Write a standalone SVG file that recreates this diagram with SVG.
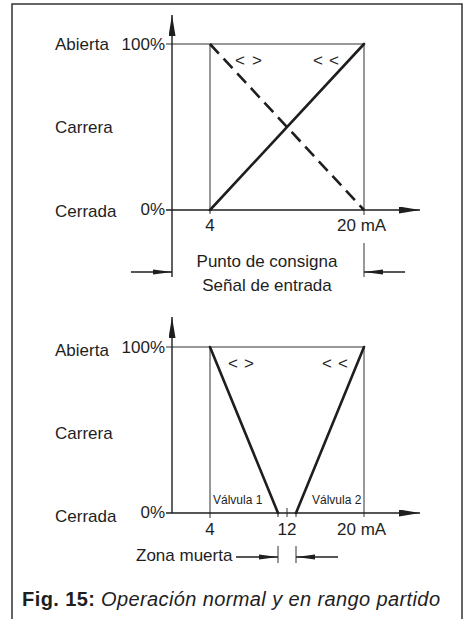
<svg xmlns="http://www.w3.org/2000/svg" width="464" height="619" viewBox="0 0 464 619">
<style>
text{font-family:"Liberation Sans",Arial,sans-serif;fill:#1e1e1e;font-size:17px}
.thin{stroke:#333;stroke-width:1;fill:none}
.axis{stroke:#1e1e1e;stroke-width:1.4;fill:none}
.thick{stroke:#1e1e1e;stroke-width:2.6;fill:none;stroke-linecap:round}
.dash{stroke:#1e1e1e;stroke-width:2.6;fill:none;stroke-dasharray:13 7}
.small{font-size:12px}
.mid{text-anchor:middle}
.end{text-anchor:end}
.cap{font-size:20px}
.b{font-weight:bold}
.i{font-style:italic}
</style>
<defs>
<marker id="ah" markerUnits="userSpaceOnUse" markerWidth="22" markerHeight="8" refX="21" refY="3.5" orient="auto"><path d="M0,0 L21,3.5 L0,7 z" fill="#1e1e1e"/></marker>
<marker id="dh" markerUnits="userSpaceOnUse" markerWidth="20" markerHeight="6" refX="19" refY="2.6" orient="auto"><path d="M0,0 L19,2.6 L0,5.2 z" fill="#1e1e1e"/></marker>
</defs>
<path d="M12,619 V4 H462 V619" stroke="#333" stroke-width="1.5" fill="none"/>
<g id="top-chart">
<g id="top-grid">
<path class="thin" d="M166,44 H364 M210,44 V214 M364,44 V215 M364,243 V277"/>
</g>
<g id="connectors-top">
<path class="axis" d="M172,277 V15" marker-end="url(#ah)"/>
<path class="axis" d="M166,210 H420" marker-end="url(#ah)"/>
<path class="axis" d="M131,272 H172" marker-end="url(#dh)"/>
<path class="axis" d="M405,272 H364" marker-end="url(#dh)"/>
<path class="thick" d="M210,210 L364,44"/>
<path class="dash" d="M210,44 L364,210"/>
</g>
<g id="top-labels">
<text x="55" y="50">Abierta</text>
<text x="165" y="50" class="end">100%</text>
<text x="55" y="133">Carrera</text>
<text x="55" y="217">Cerrada</text>
<text x="165" y="215" class="end">0%</text>
<text x="210" y="231" class="mid">4</text>
<text x="337" y="231">20 mA</text>
<text x="235" y="66" textLength="27">&lt; &gt;</text>
<text x="313" y="66" textLength="26">&lt; &lt;</text>
<text x="267" y="267" class="mid">Punto de consigna</text>
<text x="267" y="291" class="mid">Señal de entrada</text>
</g>
</g>
<g id="bottom-chart">
<g id="bottom-grid">
<path class="thin" d="M166,347 H364 M210,347 V518 M364,347 V517 M287,508 V517 M278,513 V517 M296,513 V517 M278,546 V563 M296,546 V563"/>
</g>
<g id="connectors-bottom">
<path class="axis" d="M172,513 V317" marker-end="url(#ah)"/>
<path class="axis" d="M166,513 H420" marker-end="url(#ah)"/>
<path class="thick" d="M210,347 L278,513"/>
<path class="thick" d="M296,513 L364,347"/>
<path class="axis" d="M236,557 H278" marker-end="url(#dh)"/>
<path class="axis" d="M338,557 H296" marker-end="url(#dh)"/>
</g>
<g id="bottom-labels">
<text x="55" y="356">Abierta</text>
<text x="165" y="353" class="end">100%</text>
<text x="55" y="439">Carrera</text>
<text x="55" y="522">Cerrada</text>
<text x="165" y="518" class="end">0%</text>
<text x="228" y="369" textLength="26">&lt; &gt;</text>
<text x="322" y="369" textLength="26">&lt; &lt;</text>
<text x="213" y="504" class="small">Válvula 1</text>
<text x="312" y="504" class="small">Válvula 2</text>
<text x="210" y="535" class="mid">4</text>
<text x="287" y="535" class="mid">12</text>
<text x="337" y="535">20 mA</text>
<text x="136" y="561">Zona muerta</text>
</g>
</g>
<g id="caption">
<text x="22" y="606" class="cap b" textLength="73">Fig. 15:</text>
<text x="101" y="606" class="cap i" textLength="339">Operación normal y en rango partido</text>
</g>
</svg>
